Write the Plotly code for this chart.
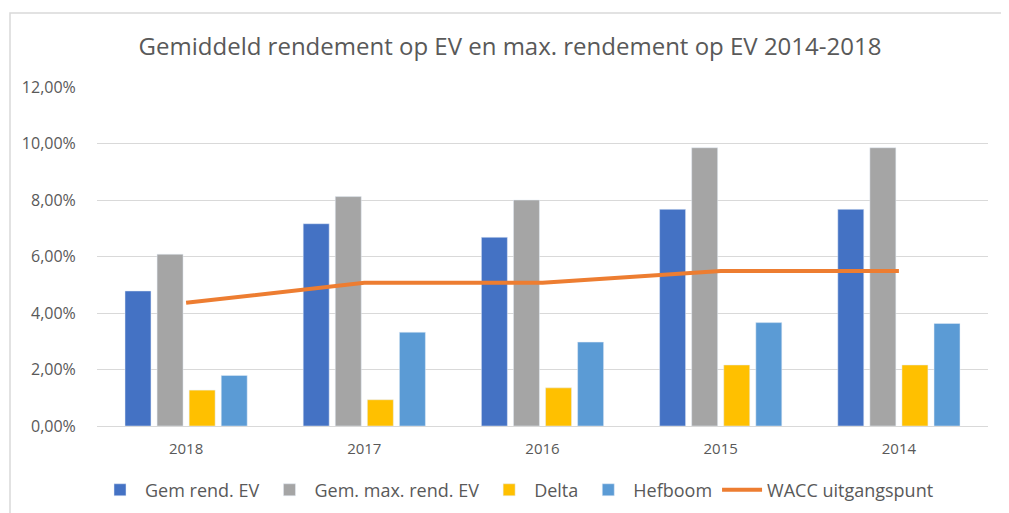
import plotly.graph_objects as go

years = ["2018", "2017", "2016", "2015", "2014"]
gem_rend_ev = [0.0478, 0.0716, 0.0668, 0.0767, 0.0767]
gem_max_rend_ev = [0.0608, 0.0812, 0.0800, 0.0985, 0.0985]
delta = [0.0127, 0.0093, 0.0135, 0.0216, 0.0216]
hefboom = [0.0179, 0.0332, 0.0297, 0.0366, 0.0363]
wacc = [0.0436, 0.0507, 0.0507, 0.0549, 0.0549]

font_family = "Open Sans, Noto Sans, sans-serif"
txt = "#595959"

fig = go.Figure()
fig.add_trace(go.Bar(x=years, y=gem_rend_ev, name="Gem rend. EV", marker_color="#4472C4"))
fig.add_trace(go.Bar(x=years, y=gem_max_rend_ev, name="Gem. max. rend. EV", marker_color="#A5A5A5"))
fig.add_trace(go.Bar(x=years, y=delta, name="Delta", marker_color="#FFC000"))
fig.add_trace(go.Bar(x=years, y=hefboom, name="Hefboom", marker_color="#5B9BD5"))
fig.add_trace(go.Scatter(x=years, y=wacc, name="WACC uitgangspunt", mode="lines",
                         line=dict(color="#ED7D31", width=4)))

# page renders with an 8px offset; margins compensate
L, T = 89, 79
plot_w, plot_h = 891, 339
fig.update_layout(
    width=1009, height=513,
    paper_bgcolor="white", plot_bgcolor="white",
    margin=dict(l=L, r=1009 - L - plot_w, t=T, b=513 - T - plot_h),
    separators=",.",
    barmode="group", bargap=0.28, bargroupgap=0.19,
    title=dict(text="Gemiddeld rendement op EV en max. rendement op EV 2014-2018",
               x=(510 - 8) / 1009, xanchor="center", y=1 - 39 / 513, yanchor="middle",
               font=dict(family=font_family, size=24, color=txt)),
    font=dict(family=font_family, color=txt, size=16),
    showlegend=True,
    legend=dict(orientation="h", x=(517 - 8 - L) / plot_w, xanchor="center",
                y=-0.189, yanchor="middle",
                font=dict(size=18, color=txt), itemwidth=40, traceorder="normal"),
    xaxis=dict(showgrid=False, showline=True, linecolor="#d9d9d9", linewidth=1,
               tickfont=dict(family=font_family, size=15, color=txt),
               ticks="outside", ticklen=9, tickcolor="rgba(0,0,0,0)"),
    yaxis=dict(range=[0, 0.12], dtick=0.02, tickformat=".2%", showgrid=True,
               gridcolor="#d9d9d9", gridwidth=1, zeroline=False, showline=False,
               ticks="outside", ticklen=17, tickcolor="rgba(0,0,0,0)",
               tickfont=dict(family=font_family, size=16, color=txt)),
    shapes=[dict(type="rect", xref="paper", yref="paper",
                 x0=(2 - L) / plot_w, x1=1.2, y0=-0.6, y1=(T + plot_h - 5) / plot_h,
                 line=dict(color="#d9d9d9", width=1.5), layer="below")],
)

fig.write_html("out.html")
